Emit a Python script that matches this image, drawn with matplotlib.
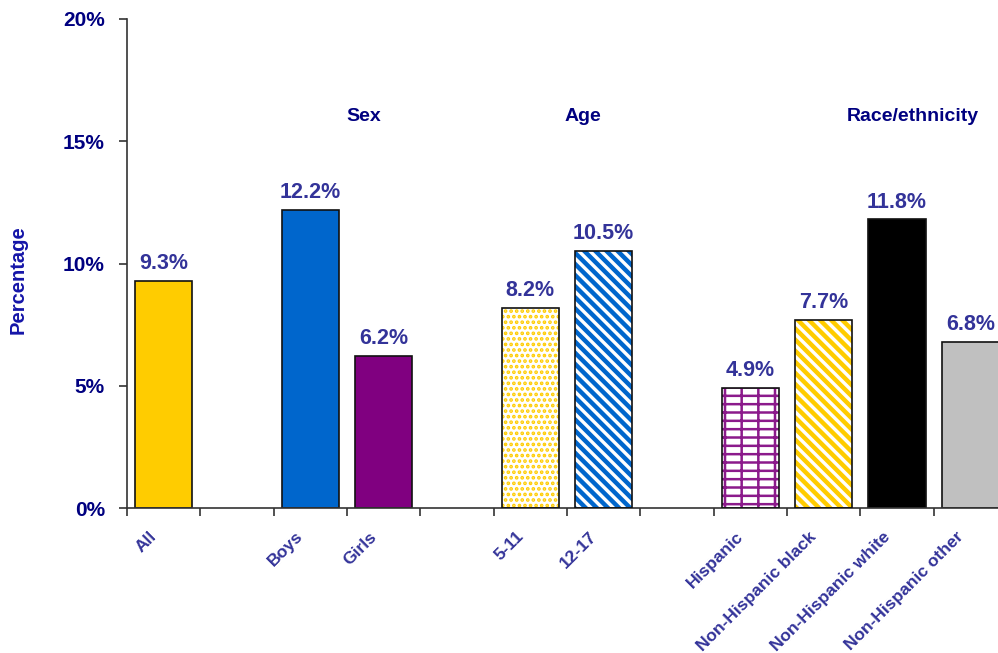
import numpy as np
import matplotlib.pyplot as plt
import matplotlib.transforms as mtransforms

plt.rcParams["font.family"] = ["Liberation Sans", "DejaVu Sans"]

# data
categories = ["All", "", "Boys", "Girls", "", "5-11", "12-17", "",
              "Hispanic", "Non-Hispanic black", "Non-Hispanic white", "Non-Hispanic other"]
values = [9.3, None, 12.2, 6.2, None, 8.2, 10.5, None, 4.9, 7.7, 11.8, 6.8]
groups = ["Sex", "Age", "Race/ethnicity"]
group_x = [3.23, 6.22, 10.71]
group_y = 16.0
yticks = [0, 5, 10, 15, 20]

# styles: (face, hatch colour, hatch, hatch linewidth)
styles = [
    ("#FFCC00", None, None, 0),
    None,
    ("#0066CC", None, None, 0),
    ("#800080", None, None, 0),
    None,
    ("white", "#FFCC00", "...", 1.8),
    ("white", "#0066CC", "\\\\\\", 3.2),
    None,
    ("white", "#8B1A8B", "--|", 1.8),
    ("white", "#FFCC00", "\\\\\\", 3.2),
    ("#000000", None, None, 0),
    ("#C0C0C0", None, None, 0),
]

navy = "#000080"
label_c = "#333399"

fig = plt.figure(figsize=(9.98, 6.53), dpi=100)
ax = fig.add_axes([127 / 998, 145 / 653, 880 / 998, 489 / 653])

width = 0.78
for i, (v, st) in enumerate(zip(values, styles)):
    if v is None:
        continue
    x = i + 0.5
    face, hc, hatch, lw = st
    if hatch is None:
        ax.bar(x, v, width, color=face, edgecolor="#111111", linewidth=1.2, zorder=2)
    else:
        with plt.rc_context({"hatch.linewidth": lw}):
            b = ax.bar(x, v, width, color=face, edgecolor=hc, hatch=hatch,
                       linewidth=0, zorder=2)
        for p in b:
            if hasattr(p, "set_hatch_linewidth"):
                p.set_hatch_linewidth(lw)
        ax.bar(x, v, width, fill=False, edgecolor="#111111", linewidth=1.2, zorder=3)
    ax.annotate("{:.1f}%".format(v), (x, v), xytext=(0, 5), textcoords="offset points",
                ha="center", va="bottom", fontsize=15.5, fontweight="bold", color=label_c)

for g, gx in zip(groups, group_x):
    ax.text(gx, group_y, g, ha="center", va="center", fontsize=14,
            fontweight="bold", color=navy)

ax.set_xlim(0, 12)
ax.set_ylim(0, 20)
ax.set_yticks(yticks)
ax.set_yticklabels(["{}%".format(t) for t in yticks], fontsize=15,
                   fontweight="bold", color=navy)
ax.tick_params(axis="y", length=6, width=1.2, color="#333333", pad=10)

ax.set_xticks(np.arange(13), minor=True)
ax.set_xticks(np.arange(12) + 0.5)
ax.set_xticklabels(categories, rotation=45, ha="right", va="top", fontsize=12.5,
                   fontweight="bold", color=label_c)
ax.tick_params(axis="x", which="major", length=0, pad=15)
ax.tick_params(axis="x", which="minor", length=6, width=1.2, color="#333333")
offset = mtransforms.ScaledTranslation(-4 / 100, 0, fig.dpi_scale_trans)
for lab in ax.get_xticklabels():
    lab.set_transform(lab.get_transform() + offset)

ax.set_ylabel("Percentage", fontsize=14.5, fontweight="bold", color="#1515A8")
ax.yaxis.set_label_coords(-0.1125, 0.468)

for s in ["top", "right"]:
    ax.spines[s].set_visible(False)
for s in ["left", "bottom"]:
    ax.spines[s].set_color("#333333")
    ax.spines[s].set_linewidth(1.2)

fig.savefig("out.png", dpi=100)
